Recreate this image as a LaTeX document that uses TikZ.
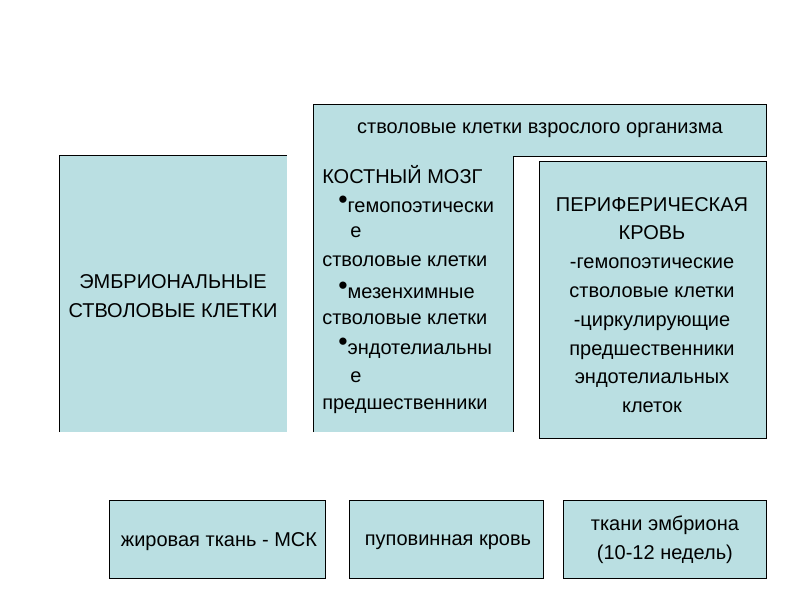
\documentclass[tikz,border=0pt]{standalone}
\usepackage{fontspec}
\setmainfont{Liberation Sans}
\definecolor{boxc}{RGB}{186,223,226}
\begin{document}
\begin{tikzpicture}[x=0.75pt,y=-0.75pt,
  fillbox/.style={fill=boxc,draw=none},
  edge/.style={draw=black,line width=0.6pt},
  txt/.style={font=\fontsize{15}{21.6}\selectfont,inner sep=0pt},
  bx/.style={fill=boxc,draw=black,line width=0.6pt,font=\fontsize{15}{21.6}\selectfont,align=center,inner sep=0pt}]
\useasboundingbox (0,0) rectangle (800,600);
% top box
\node[bx,minimum width=453*0.75pt,minimum height=52*0.75pt,anchor=north west] (top) at (313,104) {стволовые клетки взрослого организма};
% left box
\fill[fillbox] (59,155) rectangle (287,432);
\draw[edge] (59,432) -- (59,155) -- (287,155);
\node[txt,align=center] (emb) at (173,296) {ЭМБРИОНАЛЬНЫЕ\\СТВОЛОВЫЕ КЛЕТКИ};
% middle box
\fill[fillbox] (313,156) rectangle (513,432);
\draw[edge] (313,432) -- (313,156);
\draw[edge] (513,156) -- (513,432);
\node[txt,anchor=west] (m1) at (322,175) {КОСТНЫЙ МОЗГ};
\node[txt,anchor=west] (m2) at (338,204) {\raisebox{3pt}{\fontsize{20}{20}\selectfont•}гемопоэтически};
\node[txt,anchor=west] (m3) at (350,232) {е};
\node[txt,anchor=west] (m4) at (322,261) {стволовые клетки};
\node[txt,anchor=west] (m5) at (338,290) {\raisebox{3pt}{\fontsize{20}{20}\selectfont•}мезенхимные};
\node[txt,anchor=west] (m6) at (322,319) {стволовые клетки};
\node[txt,anchor=west] (m7) at (338,348) {\raisebox{3pt}{\fontsize{20}{20}\selectfont•}эндотелиальны};
\node[txt,anchor=west] (m8) at (350,377) {е};
\node[txt,anchor=west] (m9) at (322,406) {предшественники};
% right box
\draw[edge,fill=boxc] (539,161) rectangle (766,438);
\node[txt,align=center] (rt) at (652,305) {ПЕРИФЕРИЧЕСКАЯ\\КРОВЬ\\-гемопоэтические\\стволовые клетки\\-циркулирующие\\предшественники\\эндотелиальных\\клеток};
% bottom boxes
\node[bx,minimum width=216*0.75pt,minimum height=78*0.75pt,anchor=north west] (b1) at (109,500) {};
\node[txt] at (219,542) {жировая ткань - МСК};
\node[bx,minimum width=194*0.75pt,minimum height=78*0.75pt,anchor=north west] (b2) at (349,500) {};
\node[txt] at (448,542) {пуповинная кровь};
\node[bx,minimum width=203*0.75pt,minimum height=78*0.75pt,anchor=north west] (b3) at (563,500) {ткани эмбриона\\(10-12 недель)};
\end{tikzpicture}
\end{document}
